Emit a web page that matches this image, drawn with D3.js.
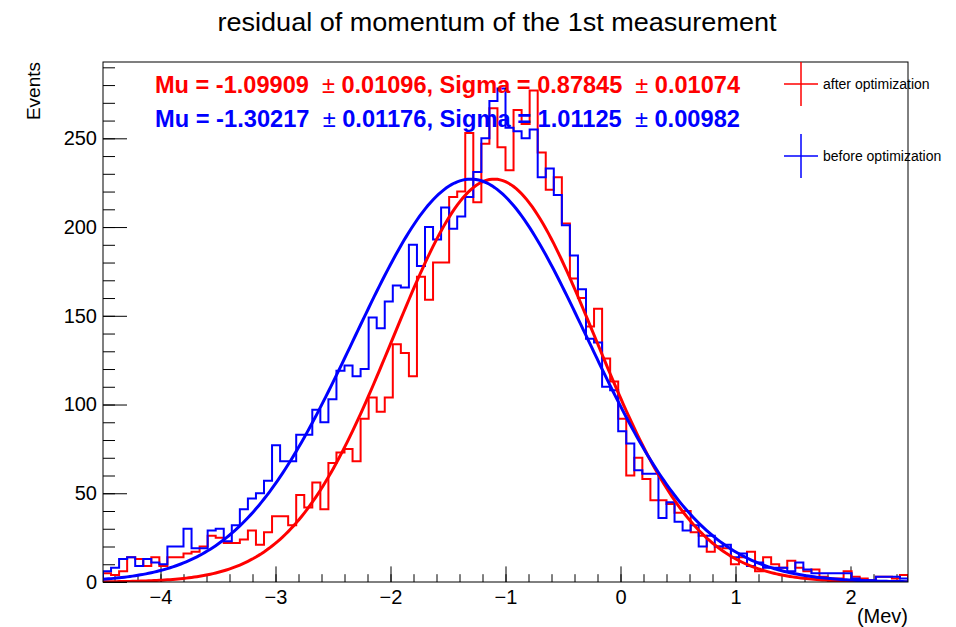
<!DOCTYPE html>
<html><head><meta charset="utf-8">
<script src="https://cdn.jsdelivr.net/npm/d3@7"></script>
<style>
body{margin:0;background:#fff}
svg{display:block}
text{font-family:"Liberation Sans",Arial,Helvetica,sans-serif}
</style>
</head><body>
<svg id="c" width="956" height="627"></svg>
<script>
// ---------------- data ----------------
const chartTitle = "residual of momentum of the 1st measurement";
const xTitle = "(Mev)";
const yTitle = "Events";
const histRange = [-4.5, 2.5];   // 100 bins of width 0.07
const afterCounts = [
  5,4,6,14,13,9,14,9,14,14,
  16,17,20,26,25,22,22,24,29,21,
  28,37,37,32,49,42,56,41,67,73,
  75,68,92,104,96,104,134,129,116,172,
  159,180,180,217,220,253,214,247,267,245,
  232,266,258,277,242,221,228,202,171,160,
  144,154,126,113,92,60,70,58,46,46,
  44,39,40,28,26,17,20,19,10,14,
  17,6,14,10,8,12,8,6,7,3,
  2,2,6,3,2,1,3,3,2,4
];
const beforeCounts = [
  6,8,13,14,9,13,11,10,20,20,
  30,19,19,29,30,23,32,41,47,50,
  57,77,68,68,83,83,97,90,103,119,
  122,116,120,149,143,158,167,166,190,178,
  200,193,211,199,206,217,231,250,271,278,
  256,254,250,255,228,233,218,201,184,165,
  137,135,110,108,85,78,63,61,61,36,
  45,34,29,32,20,26,20,21,14,16,
  9,11,8,8,8,6,11,7,5,5,
  5,5,5,2,1,1,3,3,3,2
];
// Gaussian fits: [amplitude, mu, sigma]
const afterFit = [227, -1.09909, 0.87845];
const beforeFit = [227, -1.30217, 1.01125];
const afterStats = ["Mu = -1.09909\u00a0\u00a0", "\u00b1", " 0.01096, Sigma = 0.87845\u00a0\u00a0", "\u00b1", " 0.01074"];
const beforeStats = ["Mu = -1.30217\u00a0\u00a0", "\u00b1", " 0.01176, Sigma = 1.01125\u00a0\u00a0", "\u00b1", " 0.00982"];
const legendLabels = ["after optimization", "before optimization"];
const xMajorTicks = [-4, -3, -2, -1, 0, 1, 2];
const xMinorTicks = d3.range(-44, 25, 2).map(v => v / 10);
const yMajorTicks = [0, 50, 100, 150, 200, 250];
const yMinorTicks = d3.range(0, 291, 10);
const yMax = 293;

// ---------------- drawing ----------------
const svg = d3.select("#c");
const L = 103, R = 908, T = 62, B = 582;
const x = d3.scaleLinear().domain(histRange).range([L, R]);
const y = d3.scaleLinear().domain([0, yMax]).range([B, T]);
const nb = afterCounts.length;
const bw = (histRange[1] - histRange[0]) / nb;

svg.append("defs").append("clipPath").attr("id", "clip")
  .append("rect").attr("x", L).attr("y", T).attr("width", R - L).attr("height", B - T);

// title
svg.append("text").attr("x", 497).attr("y", 31).attr("text-anchor", "middle")
  .attr("font-size", 26).attr("textLength", 559).attr("lengthAdjust", "spacingAndGlyphs")
  .text(chartTitle);

// axes
const fmt = d3.format("");
const gx = svg.append("g").attr("transform", `translate(0,${B})`);
gx.call(d3.axisBottom(x).tickValues(xMinorTicks).tickSize(-7.8).tickFormat(""));
gx.call(g => g.select(".domain").remove());
const gx2 = svg.append("g").attr("transform", `translate(0,${B})`);
gx2.call(d3.axisBottom(x).tickValues(xMajorTicks).tickSize(-15.6).tickPadding(8).tickFormat(fmt));
gx2.call(g => g.select(".domain").remove());

const gy = svg.append("g").attr("transform", `translate(${L},0)`);
gy.call(d3.axisLeft(y).tickValues(yMinorTicks).tickSize(-12).tickFormat(""));
gy.call(g => g.select(".domain").remove());
const gy2 = svg.append("g").attr("transform", `translate(${L},0)`);
gy2.call(d3.axisLeft(y).tickValues(yMajorTicks).tickSize(-24).tickPadding(6).tickFormat(fmt));
gy2.call(g => g.select(".domain").remove());

svg.selectAll(".tick line").attr("stroke", "#000").attr("stroke-width", 1);
svg.selectAll(".tick text").attr("font-size", 20).attr("fill", "#000")
  .attr("font-family", '"Liberation Sans",Arial,sans-serif');

// axis titles
svg.append("text").attr("x", R).attr("y", 623).attr("text-anchor", "end")
  .attr("font-size", 20).text(xTitle);
svg.append("text").attr("transform", `translate(40,${T}) rotate(-90)`)
  .attr("text-anchor", "end").attr("font-size", 19).text(yTitle);

// histograms
function stepPoints(counts) {
  const pts = [[histRange[0], 0]];
  counts.forEach((c, i) => pts.push([histRange[0] + i * bw, c]));
  pts.push([histRange[1], counts[counts.length - 1]]);
  pts.push([histRange[1], 0]);
  return pts;
}
const stepLine = d3.line().x(d => x(d[0])).y(d => y(d[1])).curve(d3.curveStepAfter);
const plot = svg.append("g").attr("clip-path", "url(#clip)");
plot.append("path").attr("d", stepLine(stepPoints(afterCounts)))
  .attr("fill", "none").attr("stroke", "#ff0000").attr("stroke-width", 2);
plot.append("path").attr("d", stepLine(stepPoints(beforeCounts)))
  .attr("fill", "none").attr("stroke", "#0000ff").attr("stroke-width", 2);

// fits
function gaus(p) {
  return d3.range(0, 301).map(k => {
    const xv = histRange[0] + (histRange[1] - histRange[0]) * k / 300;
    return [xv, p[0] * Math.exp(-0.5 * ((xv - p[1]) / p[2]) ** 2)];
  });
}
const fitLine = d3.line().x(d => x(d[0])).y(d => y(d[1]));
plot.append("path").attr("d", fitLine(gaus(afterFit)))
  .attr("fill", "none").attr("stroke", "#ff0000").attr("stroke-width", 3);
plot.append("path").attr("d", fitLine(gaus(beforeFit)))
  .attr("fill", "none").attr("stroke", "#0000ff").attr("stroke-width", 3);

// frame
svg.append("rect").attr("x", L).attr("y", T).attr("width", R - L).attr("height", B - T)
  .attr("fill", "none").attr("stroke", "#000").attr("stroke-width", 1);

// stats text
function statText(parts, yy, color) {
  const t = svg.append("text").attr("x", 155).attr("y", yy).attr("fill", color)
    .attr("font-size", 23).attr("font-weight", "bold")
    .attr("textLength", 585).attr("lengthAdjust", "spacingAndGlyphs");
  parts.forEach((p) => {
    t.append("tspan").attr("font-weight", p === "\u00b1" ? "normal" : "bold").text(p);
  });
}
statText(afterStats, 93, "#ff0000");
statText(beforeStats, 127, "#0000ff");

// legend
const legendColors = ["#ff0000", "#0000ff"];
const legendY = [84, 156];
legendLabels.forEach((lab, i) => {
  const cy = legendY[i];
  svg.append("line").attr("x1", 801).attr("x2", 801).attr("y1", cy - 22).attr("y2", cy + 22)
    .attr("stroke", legendColors[i]).attr("stroke-width", 1.5);
  svg.append("line").attr("x1", 784).attr("x2", 818).attr("y1", cy).attr("y2", cy)
    .attr("stroke", legendColors[i]).attr("stroke-width", 1.5);
  svg.append("text").attr("x", 823).attr("y", cy + 5).attr("font-size", 14).text(lab);
});
</script>
</body></html>
